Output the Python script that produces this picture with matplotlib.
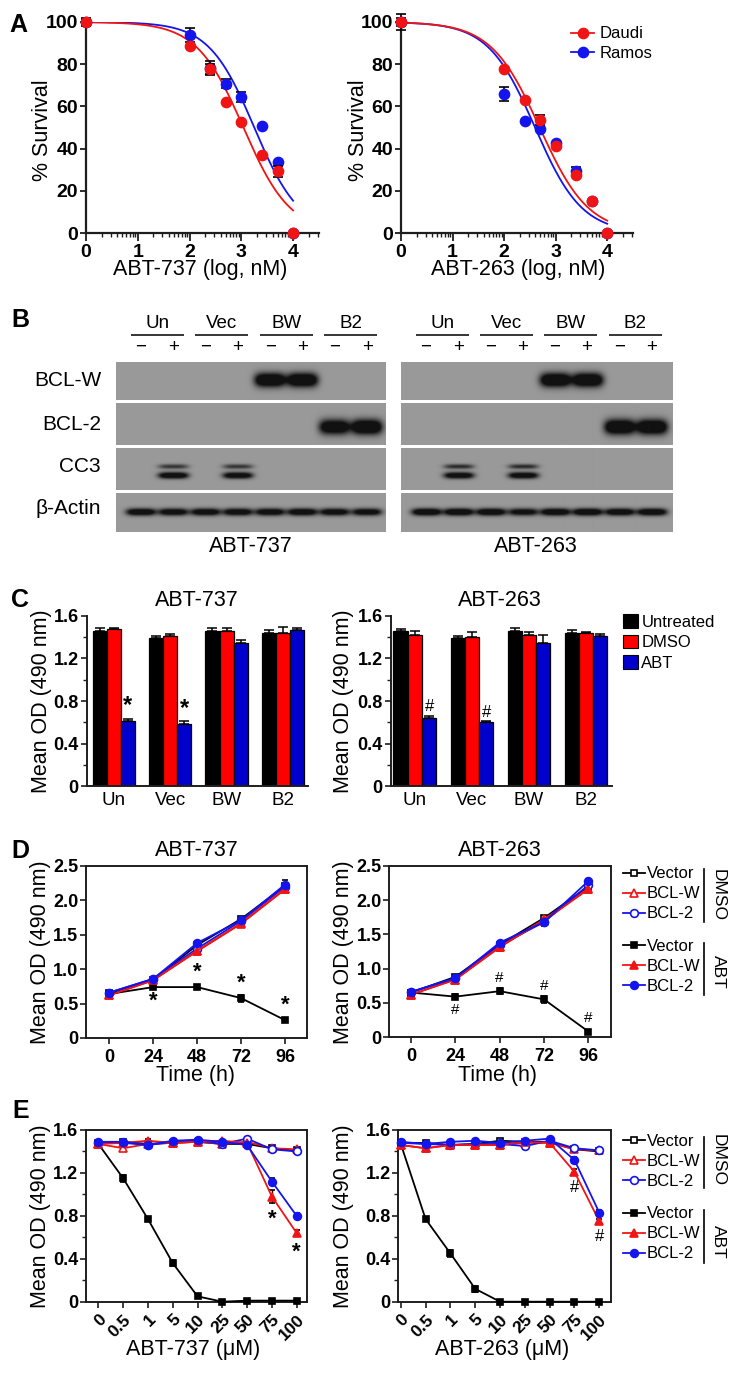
import numpy as np
import matplotlib
matplotlib.use('Agg')
import matplotlib.pyplot as plt
from matplotlib.lines import Line2D
from matplotlib.patches import Patch
from matplotlib.ticker import MultipleLocator, FixedLocator

plt.rcParams['font.family'] = ['Liberation Sans', 'DejaVu Sans']

# ======================= DATA =======================
# ---- Panel A: % survival vs log dose (nM)
a_log_dose = [0, 2, 2.398, 2.699, 3, 3.398, 3.699, 4]
a737_daudi = [100, 88.5, 77.5, 62.0, 52.5, 36.8, 29.2, 0]
a737_daudi_err = [2.0, 0, 2.5, 0, 0, 0, 2.7, 0]
a737_ramos = [100, 93.8, 78.4, 70.8, 64.4, 50.6, 33.8, 0]
a737_ramos_err = [1.5, 3.2, 3.0, 2.0, 2.3, 0, 0, 0]
a263_daudi = [100, 77.6, 62.8, 53.6, 41.3, 27.6, 15.0, 0]
a263_daudi_err = [3.6, 0, 0, 2.3, 0, 0, 0, 0]
a263_ramos = [100, 65.9, 53.0, 49.4, 42.6, 29.2, 15.0, 0]
a263_ramos_err = [2.0, 3.4, 0, 0, 0, 2.0, 0, 0]
# fitted sigmoid parameters (logIC50, Hill slope)
a737_daudi_fit = (3.04, 0.96)
a737_ramos_fit = (3.25, 0.99)
a263_daudi_fit = (2.69, 0.92)
a263_ramos_fit = (2.60, 0.955)
a_cell_lines = ['Daudi', 'Ramos']

# ---- Panel B: western blot band intensities (lanes: Un-,Un+,Vec-,Vec+,BW-,BW+,B2-,B2+)
b_groups = ['Un', 'Vec', 'BW', 'B2']
b_treat = ['\u2212', '+']
b_proteins = ['BCL-W', 'BCL-2', 'CC3', '\u03b2-Actin']
b737_bclw = [0, 0, 0, 0, 1.0, 1.0, 0, 0]
b737_bcl2 = [0, 0, 0, 0, 0, 0, 0.9, 1.0]
b737_cc3_upper = [0, 0.45, 0, 0.45, 0, 0, 0, 0]
b737_cc3_lower = [0, 0.9, 0, 0.85, 0, 0, 0, 0]
b737_actin = [0.85, 0.8, 0.82, 0.82, 0.82, 0.85, 0.8, 0.78]
b263_bclw = [0, 0, 0, 0, 1.0, 1.0, 0, 0]
b263_bcl2 = [0, 0, 0, 0, 0, 0, 1.0, 1.0]
b263_cc3_upper = [0, 0.5, 0, 0.5, 0, 0, 0, 0]
b263_cc3_lower = [0, 0.85, 0, 0.85, 0, 0, 0, 0]
b263_actin = [0.9, 0.9, 0.88, 0.75, 0.88, 0.9, 0.85, 0.88]

# ---- Panel C: mean OD (490 nm), bars
c_groups = ['Un', 'Vec', 'BW', 'B2']
c_conditions = ['Untreated', 'DMSO', 'ABT']
c737_untreated = [1.455, 1.393, 1.455, 1.437]
c737_untreated_err = [0.025, 0.02, 0.03, 0.03]
c737_dmso = [1.474, 1.412, 1.455, 1.437]
c737_dmso_err = [0.015, 0.015, 0.03, 0.06]
c737_abt = [0.615, 0.584, 1.34, 1.465]
c737_abt_err = [0.02, 0.025, 0.03, 0.02]
c263_untreated = [1.456, 1.393, 1.456, 1.437]
c263_untreated_err = [0.022, 0.02, 0.03, 0.033]
c263_dmso = [1.415, 1.40, 1.418, 1.437]
c263_dmso_err = [0.045, 0.045, 0.025, 0.01]
c263_abt = [0.643, 0.60, 1.345, 1.406]
c263_abt_err = [0.02, 0.008, 0.07, 0.025]
c_sig_groups = [0, 1]

# ---- Panel D: time course
d_time = [0, 24, 48, 72, 96]
d737_dmso_vector = [0.65, 0.85, 1.35, 1.73, 2.21]
d737_dmso_bclw = [0.62, 0.84, 1.26, 1.66, 2.16]
d737_dmso_bcl2 = [0.66, 0.86, 1.30, 1.70, 2.20]
d737_abt_vector = [0.64, 0.74, 0.74, 0.58, 0.26]
d737_abt_bclw = [0.62, 0.84, 1.27, 1.67, 2.17]
d737_abt_bcl2 = [0.66, 0.86, 1.38, 1.71, 2.23]
d737_dmso_vector_err = [0.01, 0.02, 0.03, 0.03, 0.05]
d737_dmso_bclw_err = [0.01, 0.02, 0.03, 0.02, 0.03]
d737_dmso_bcl2_err = [0.01, 0.02, 0.02, 0.02, 0.04]
d737_abt_vector_err = [0.01, 0.02, 0.02, 0.05, 0.02]
d737_abt_bclw_err = [0.01, 0.02, 0.03, 0.02, 0.03]
d737_abt_bcl2_err = [0.01, 0.02, 0.03, 0.03, 0.06]
d263_dmso_vector = [0.65, 0.88, 1.35, 1.74, 2.20]
d263_dmso_bclw = [0.62, 0.84, 1.31, 1.72, 2.17]
d263_dmso_bcl2 = [0.66, 0.86, 1.34, 1.68, 2.22]
d263_abt_vector = [0.65, 0.59, 0.67, 0.55, 0.08]
d263_abt_bclw = [0.62, 0.84, 1.32, 1.70, 2.16]
d263_abt_bcl2 = [0.66, 0.86, 1.38, 1.68, 2.28]
d263_dmso_vector_err = [0.01, 0.03, 0.03, 0.03, 0.04]
d263_dmso_bclw_err = [0.01, 0.02, 0.05, 0.02, 0.03]
d263_dmso_bcl2_err = [0.01, 0.02, 0.02, 0.05, 0.03]
d263_abt_vector_err = [0.01, 0.04, 0.04, 0.05, 0.02]
d263_abt_bclw_err = [0.01, 0.02, 0.03, 0.02, 0.03]
d263_abt_bcl2_err = [0.01, 0.02, 0.03, 0.03, 0.03]
d737_sig_idx = [1, 2, 3, 4]
d737_sig_below = [True, False, False, False]
d263_sig_idx = [1, 2, 3, 4]
d263_sig_below = [True, False, False, False]

# ---- Panel E: dose response (uM)
e_conc_labels = ['0', '0.5', '1', '5', '10', '25', '50', '75', '100']
e737_dmso_vector = [1.48, 1.49, 1.47, 1.48, 1.49, 1.47, 1.47, 1.43, 1.41]
e737_dmso_bclw = [1.47, 1.43, 1.47, 1.48, 1.49, 1.47, 1.49, 1.43, 1.42]
e737_dmso_bcl2 = [1.48, 1.48, 1.46, 1.49, 1.50, 1.47, 1.52, 1.42, 1.40]
e737_abt_vector = [1.47, 1.15, 0.77, 0.36, 0.05, 0.0, 0.01, 0.01, 0.01]
e737_abt_bclw = [1.47, 1.48, 1.50, 1.48, 1.49, 1.50, 1.48, 0.98, 0.64]
e737_abt_bcl2 = [1.49, 1.49, 1.46, 1.50, 1.51, 1.49, 1.46, 1.12, 0.80]
e737_dmso_vector_err = [0.01, 0.01, 0.01, 0.01, 0.01, 0.01, 0.01, 0.01, 0.02]
e737_dmso_bclw_err = [0.01, 0.02, 0.01, 0.01, 0.01, 0.02, 0.01, 0.01, 0.01]
e737_dmso_bcl2_err = [0.01, 0.01, 0.01, 0.01, 0.02, 0.01, 0.01, 0.01, 0.02]
e737_abt_vector_err = [0.01, 0.03, 0.02, 0.03, 0.01, 0.0, 0.0, 0.0, 0.0]
e737_abt_bclw_err = [0.01, 0.01, 0.02, 0.01, 0.01, 0.01, 0.01, 0.06, 0.03]
e737_abt_bcl2_err = [0.01, 0.01, 0.01, 0.01, 0.02, 0.01, 0.02, 0.03, 0.03]
e263_dmso_vector = [1.48, 1.48, 1.46, 1.47, 1.50, 1.49, 1.49, 1.42, 1.40]
e263_dmso_bclw = [1.46, 1.43, 1.46, 1.46, 1.46, 1.48, 1.48, 1.42, 1.41]
e263_dmso_bcl2 = [1.48, 1.47, 1.46, 1.47, 1.47, 1.45, 1.50, 1.43, 1.41]
e263_abt_vector = [1.47, 0.77, 0.45, 0.12, 0.0, 0.0, 0.0, 0.0, 0.0]
e263_abt_bclw = [1.46, 1.43, 1.46, 1.46, 1.46, 1.49, 1.48, 1.21, 0.75]
e263_abt_bcl2 = [1.49, 1.47, 1.49, 1.50, 1.48, 1.50, 1.52, 1.32, 0.83]
e263_dmso_vector_err = [0.01, 0.02, 0.01, 0.01, 0.02, 0.01, 0.01, 0.01, 0.02]
e263_dmso_bclw_err = [0.01, 0.03, 0.01, 0.01, 0.04, 0.02, 0.01, 0.01, 0.01]
e263_dmso_bcl2_err = [0.01, 0.01, 0.01, 0.01, 0.02, 0.03, 0.01, 0.01, 0.02]
e263_abt_vector_err = [0.01, 0.02, 0.03, 0.03, 0.0, 0.0, 0.0, 0.0, 0.0]
e263_abt_bclw_err = [0.01, 0.03, 0.01, 0.01, 0.02, 0.01, 0.01, 0.03, 0.02]
e263_abt_bcl2_err = [0.01, 0.01, 0.01, 0.01, 0.02, 0.01, 0.01, 0.03, 0.02]
e737_sig_idx = [7, 8]
e263_sig_idx = [7, 8]

legend_series = ['Vector', 'BCL-W', 'BCL-2']

# ======================= STYLE / LAYOUT =======================
RED = '#f01414'
BLUE = '#1414ee'
BAR_RED = '#ff0000'
BAR_BLUE = '#0000cc'
AXC = '#1e1e1e'
W, H = 734, 1374

fig = plt.figure(figsize=(W / 100, H / 100), dpi=100)
ov = fig.add_axes([0, 0, 1, 1], zorder=0)
ov.set_xlim(0, W)
ov.set_ylim(H, 0)
ov.axis('off')


def axes_px(l, t, r, b):
    ax = fig.add_axes([l / W, 1 - b / H, (r - l) / W, (b - t) / H], zorder=1)
    ax.set_facecolor('none')
    return ax


def to_axes(ax, xpx, ypx):
    return ax.transAxes.inverted().transform((xpx, H - ypx))


def xlabel_px(ax, text, xpx, ypx, size=15.5):
    ax.set_xlabel(text, fontsize=size)
    xa, ya = to_axes(ax, xpx, ypx)
    ax.xaxis.set_label_coords(xa, ya)
    ax.xaxis.label.set_va('center')


def ylabel_px(ax, text, xpx, ypx, size=15.5):
    ax.set_ylabel(text, fontsize=size)
    xa, ya = to_axes(ax, xpx, ypx)
    ax.yaxis.set_label_coords(xa, ya)
    ax.yaxis.label.set_va('center')


def title_px(ax, text, xpx, ypx, size=15.5):
    xa, ya = to_axes(ax, xpx, ypx)
    ax.text(xa, ya, text, transform=ax.transAxes, ha='center', va='center', fontsize=size)


def style_spines(ax, box=False, lw=1.4):
    for s in ['left', 'bottom', 'top', 'right']:
        ax.spines[s].set_color(AXC)
        ax.spines[s].set_linewidth(lw)
    if not box:
        ax.spines['top'].set_visible(False)
        ax.spines['right'].set_visible(False)


def panel_letter(x, y, s):
    ov.text(x, y, s, fontsize=18, fontweight='bold', ha='left', va='center')


# ======================= PANEL A =======================
def logistic(x, logic50, hill):
    return 100.0 / (1.0 + 10 ** ((np.asarray(x) - logic50) * hill))


def draw_a(ax, daudi, daudi_err, ramos, ramos_err, fit_d, fit_r):
    xs = np.linspace(0, 4, 400)
    ax.plot(xs, logistic(xs, *fit_r), color=BLUE, lw=1.3, zorder=2)
    ax.plot(xs, logistic(xs, *fit_d), color=RED, lw=1.3, zorder=2)
    for vals, errs, col, z in ((ramos, ramos_err, BLUE, 3), (daudi, daudi_err, RED, 4)):
        x = np.array(a_log_dose)
        v = np.array(vals)
        e = np.array(errs)
        m = e > 0
        ax.errorbar(x[m], v[m], yerr=e[m], fmt='none', ecolor='black', elinewidth=1.2,
                    capsize=3.3, capthick=1.2, zorder=z - 0.5, clip_on=False)
        ax.plot(x, v, 'o', color=col, ms=7.4, mec=col, zorder=z, clip_on=False)
    ax.set_xlim(0, 4.5)
    ax.set_ylim(0, 100)
    ax.set_xticks([0, 1, 2, 3, 4], ['0', '1', '2', '3', '4'], fontsize=14, fontweight='bold')
    ax.set_yticks([0, 20, 40, 60, 80, 100], ['0', '20', '40', '60', '80', '100'],
                  fontsize=14, fontweight='bold')
    minor = [d + np.log10(k) for d in range(5) for k in range(2, 10) if d + np.log10(k) <= 4.5]
    ax.xaxis.set_minor_locator(FixedLocator(minor))
    ax.tick_params(axis='x', which='major', length=5.5, width=1.3, color=AXC, pad=2.5)
    ax.tick_params(axis='x', which='minor', length=3, width=1.0, color=AXC)
    ax.tick_params(axis='y', which='major', length=4, width=1.3, color=AXC, pad=1.5)
    style_spines(ax, lw=1.6)


axA1 = axes_px(86, 22, 319, 233)
draw_a(axA1, a737_daudi, a737_daudi_err, a737_ramos, a737_ramos_err, a737_daudi_fit, a737_ramos_fit)
ylabel_px(axA1, '% Survival', 43, 130)
xlabel_px(axA1, 'ABT-737 (log, nM)', 200, 270)

axA2 = axes_px(401, 22, 633, 233)
draw_a(axA2, a263_daudi, a263_daudi_err, a263_ramos, a263_ramos_err, a263_daudi_fit, a263_ramos_fit)
ylabel_px(axA2, '% Survival', 358, 130)
xlabel_px(axA2, 'ABT-263 (log, nM)', 518, 270)
a_handles = [Line2D([], [], color=RED, marker='o', ms=7.4, lw=1.3, label=a_cell_lines[0]),
             Line2D([], [], color=BLUE, marker='o', ms=7.4, lw=1.3, label=a_cell_lines[1])]
axA2.legend(handles=a_handles, loc='upper left', bbox_to_anchor=(571, 26.5),
            bbox_transform=ov.transData, frameon=False, fontsize=12, handlelength=1.4,
            handletextpad=0.3, labelspacing=0.27, borderpad=0, borderaxespad=0)
panel_letter(9, 25, 'A')

# ======================= PANEL B =======================
BLOT_BG = 0.60
BLOT_DARK = 0.07
blot_rows_y = [(362, 400), (403, 445), (448, 490), (493, 532)]
blot_label_y = [380.5, 424, 467, 509]


def blot_row(x0, x1, y0, y1, lane_x, bands):
    nx = int((x1 - x0) * 2)
    ny = int((y1 - y0) * 2)
    X, Y = np.meshgrid(np.linspace(x0, x1, nx), np.linspace(y0, y1, ny))
    dens = np.zeros_like(X)
    for inten, cy, hh, hw in bands:
        for lx, v in zip(lane_x, inten):
            if v > 0:
                dens += 1.7 * v * np.exp(-np.abs((X - lx) / hw) ** 4 - np.abs((Y - cy) / hh) ** 2)
    img = BLOT_BG - (BLOT_BG - BLOT_DARK) * np.clip(dens, 0, 1)
    ov.imshow(img, extent=(x0, x1, y1, y0), cmap='gray', vmin=0, vmax=1, aspect='auto',
              interpolation='bilinear', origin='upper', zorder=1)


def draw_blot(x0, x1, lane0, pitch, bclw, bcl2, cc3u, cc3l, actin, drug):
    lanes = lane0 + pitch * np.arange(8)
    row_bands = [
        [(bclw, 380, 7.0, 15.5)],
        [(bcl2, 427, 7.5, 15.5)],
        [(cc3u, 466.5, 2.4, 15.0), (cc3l, 475.5, 3.2, 15.0)],
        [(actin, 512, 3.6, 15.0)],
    ]
    for (y0, y1), bands in zip(blot_rows_y, row_bands):
        blot_row(x0, x1, y0, y1, lanes, bands)
    for g, name in enumerate(b_groups):
        cx = (lanes[2 * g] + lanes[2 * g + 1]) / 2
        ov.text(cx, 324, name, ha='center', va='center', fontsize=13.5)
        ov.plot([cx - 26.5, cx + 26.5], [335, 335], color='black', lw=1.1, solid_capstyle='butt')
        for k in range(2):
            ov.text(lanes[2 * g + k], 347, b_treat[k], ha='center', va='center', fontsize=13.5)
    ov.text((x0 + x1) / 2, 547, drug, ha='center', va='center', fontsize=15.5)


draw_blot(116, 386, 141.0, 32.3, b737_bclw, b737_bcl2, b737_cc3_upper, b737_cc3_lower, b737_actin, 'ABT-737')
draw_blot(400.5, 672, 426.0, 32.2, b263_bclw, b263_bcl2, b263_cc3_upper, b263_cc3_lower, b263_actin, 'ABT-263')
for name, y in zip(b_proteins, blot_label_y):
    ov.text(101, y, name, ha='right', va='center', fontsize=15)
panel_letter(11, 320, 'B')

# ======================= PANEL C =======================
def draw_c(ax, series, sig, sig_size, sig_weight, xlim):
    centers = np.arange(len(c_groups)) * 4
    for off, (vals, errs), col, lab in zip((-1, 0, 1), series, ('black', BAR_RED, BAR_BLUE), c_conditions):
        ax.bar(centers + off, vals, width=1.0, color=col, edgecolor='black', linewidth=0.9,
               yerr=[np.zeros(len(vals)), errs], label=lab, zorder=2,
               error_kw=dict(ecolor='black', elinewidth=1.1, capsize=3.4, capthick=1.1))
    abt_vals, abt_errs = series[2]
    for g in c_sig_groups:
        ax.text(centers[g] + 1, abt_vals[g] + abt_errs[g] + 0.015, sig, ha='center', va='bottom',
                fontsize=sig_size, fontweight=sig_weight)
    ax.set_xlim(*xlim)
    ax.set_ylim(0, 1.6)
    ax.set_xticks(centers, c_groups, fontsize=13.5)
    ax.tick_params(axis='x', length=0, pad=4)
    ax.set_yticks([0, 0.4, 0.8, 1.2, 1.6], ['0', '0.4', '0.8', '1.2', '1.6'], fontsize=13, fontweight='bold')
    ax.yaxis.set_minor_locator(MultipleLocator(0.2))
    ax.tick_params(axis='y', which='major', length=4.5, width=1.2, color=AXC, pad=1)
    ax.tick_params(axis='y', which='minor', length=3, width=1.0, color=AXC)
    style_spines(ax, lw=1.4)


axC1 = axes_px(86.5, 615.7, 308, 786.3)
draw_c(axC1, [(c737_untreated, c737_untreated_err), (c737_dmso, c737_dmso_err), (c737_abt, c737_abt_err)],
       '*', 17, 'bold', (-1.94, 13.78))
ylabel_px(axC1, 'Mean OD (490 nm)', 41, 701)
title_px(axC1, 'ABT-737', 197, 601)

axC2 = axes_px(390.5, 615.7, 612, 786.3)
draw_c(axC2, [(c263_untreated, c263_untreated_err), (c263_dmso, c263_dmso_err), (c263_abt, c263_abt_err)],
       '#', 12, 'normal', (-1.71, 13.83))
ylabel_px(axC2, 'Mean OD (490 nm)', 343, 701)
title_px(axC2, 'ABT-263', 500, 601)
c_handles = [Patch(facecolor=col, edgecolor='black', linewidth=0.8, label=lab)
             for col, lab in zip(('black', BAR_RED, BAR_BLUE), c_conditions)]
axC2.legend(handles=c_handles, loc='upper left', bbox_to_anchor=(623, 614.5),
            bbox_transform=ov.transData, frameon=False, fontsize=12, handlelength=0.9,
            handleheight=0.9, handletextpad=0.2, labelspacing=0.27, borderpad=0, borderaxespad=0)
panel_letter(11, 600, 'C')

# ======================= PANELS D / E =======================
series_style = [
    ('black', 's', 'white', 5.0),
    (RED, '^', 'white', 5.8),
    (BLUE, 'o', 'white', 5.6),
    ('black', 's', 'black', 5.0),
    (RED, '^', RED, 5.8),
    (BLUE, 'o', BLUE, 5.6),
]


def draw_lines(ax, x, series, errs):
    for vals, err, (col, mk, mfc, ms) in zip(series, errs, series_style):
        ax.errorbar(x, vals, yerr=err, color=col, marker=mk, mfc=mfc, mec=col, ms=ms, mew=1.2,
                    lw=1.3, ecolor='black', elinewidth=1.0, capsize=2.3, capthick=1.0, zorder=3,
                    clip_on=False)


def group_legend(ax, top, names, styles, group_name, bar_top, bar_bot, text_y):
    handles = [Line2D([], [], color=col, marker=mk, mfc=mfc, mec=col, ms=ms, mew=1.2, lw=1.3, label=n)
               for n, (col, mk, mfc, ms) in zip(names, styles)]
    leg = ax.legend(handles=handles, loc='upper left', bbox_to_anchor=(623, top),
                    bbox_transform=ov.transData, frameon=False, fontsize=12, handlelength=1.32,
                    handletextpad=0.12, labelspacing=0.3, borderpad=0, borderaxespad=0)
    ax.legend_ = None
    ax.add_artist(leg)
    ov.plot([704.3, 704.3], [bar_top, bar_bot], color='black', lw=1.2)
    ov.text(718, text_y, group_name, rotation=-90, ha='center', va='center', fontsize=12.5)


def style_de(ax):
    style_spines(ax, box=True, lw=1.4)
    ax.tick_params(axis='both', which='major', length=4.5, width=1.2, color=AXC)
    ax.tick_params(axis='y', which='major', pad=1)
    ax.tick_params(axis='y', which='minor', length=3, width=1.0, color=AXC)


def sig_marks_d(ax, x, vals, idxs, below, s, size, weight, off):
    for i, b in zip(idxs, below):
        if b:
            ax.text(x[i], vals[i] - off, s, ha='center', va='top', fontsize=size, fontweight=weight)
        else:
            ax.text(x[i], vals[i] + off, s, ha='center', va='bottom', fontsize=size, fontweight=weight)


# ---- D left
axD1 = axes_px(86, 866, 307.3, 1038)
draw_lines(axD1, d_time,
           [d737_dmso_vector, d737_dmso_bclw, d737_dmso_bcl2, d737_abt_vector, d737_abt_bclw, d737_abt_bcl2],
           [d737_dmso_vector_err, d737_dmso_bclw_err, d737_dmso_bcl2_err, d737_abt_vector_err,
            d737_abt_bclw_err, d737_abt_bcl2_err])
sig_marks_d(axD1, d_time, d737_abt_vector, d737_sig_idx, d737_sig_below, '*', 16, 'bold', 0.06)
axD1.set_xlim(-12.7, 108.2)
axD1.set_ylim(0, 2.5)
axD1.set_xticks(d_time, [str(t) for t in d_time], fontsize=13, fontweight='bold')
axD1.set_yticks([0, 0.5, 1.0, 1.5, 2.0, 2.5], ['0', '0.5', '1.0', '1.5', '2.0', '2.5'], fontsize=13, fontweight='bold')
style_de(axD1)
ylabel_px(axD1, 'Mean OD (490 nm)', 41, 952)
xlabel_px(axD1, 'Time (h)', 195, 1075)
title_px(axD1, 'ABT-737', 197, 850)
panel_letter(11, 851, 'D')

# ---- D right
axD2 = axes_px(389.3, 866, 610.7, 1037)
draw_lines(axD2, d_time,
           [d263_dmso_vector, d263_dmso_bclw, d263_dmso_bcl2, d263_abt_vector, d263_abt_bclw, d263_abt_bcl2],
           [d263_dmso_vector_err, d263_dmso_bclw_err, d263_dmso_bcl2_err, d263_abt_vector_err,
            d263_abt_bclw_err, d263_abt_bcl2_err])
sig_marks_d(axD2, d_time, d263_abt_vector, d263_sig_idx, d263_sig_below, '#', 11, 'normal', 0.09)
axD2.set_xlim(-11.75, 108.1)
axD2.set_ylim(0, 2.5)
axD2.set_xticks(d_time, [str(t) for t in d_time], fontsize=13, fontweight='bold')
axD2.set_yticks([0, 0.5, 1.0, 1.5, 2.0, 2.5], ['0', '0.5', '1.0', '1.5', '2.0', '2.5'], fontsize=13, fontweight='bold')
style_de(axD2)
ylabel_px(axD2, 'Mean OD (490 nm)', 343, 952)
xlabel_px(axD2, 'Time (h)', 498, 1075)
title_px(axD2, 'ABT-263', 500, 850)
group_legend(axD2, 866.5, legend_series, series_style[:3], 'DMSO', 869, 921.7, 895)
group_legend(axD2, 939, legend_series, series_style[3:], 'ABT', 943, 995, 971.7)

# ---- E
e_x = np.arange(len(e_conc_labels))


def setup_e(ax, xlim):
    ax.set_xlim(*xlim)
    ax.set_ylim(0, 1.6)
    ax.set_xticks(e_x, e_conc_labels, fontsize=12.5, fontweight='bold', rotation=45,
                  ha='right', va='top', rotation_mode='anchor')
    ax.set_yticks([0, 0.4, 0.8, 1.2, 1.6], ['0', '0.4', '0.8', '1.2', '1.6'], fontsize=13, fontweight='bold')
    ax.yaxis.set_minor_locator(MultipleLocator(0.2))
    style_de(ax)
    ax.tick_params(axis='x', pad=3)


axE1 = axes_px(86, 1130, 307.3, 1301.7)
draw_lines(axE1, e_x,
           [e737_dmso_vector, e737_dmso_bclw, e737_dmso_bcl2, e737_abt_vector, e737_abt_bclw, e737_abt_bcl2],
           [e737_dmso_vector_err, e737_dmso_bclw_err, e737_dmso_bcl2_err, e737_abt_vector_err,
            e737_abt_bclw_err, e737_abt_bcl2_err])
for i in e737_sig_idx:
    axE1.text(e_x[i], e737_abt_bclw[i] - e737_abt_bclw_err[i] - 0.05, '*', ha='center', va='top',
              fontsize=16, fontweight='bold')
setup_e(axE1, (-0.5, 8.43))
ylabel_px(axE1, 'Mean OD (490 nm)', 41, 1216)
xlabel_px(axE1, 'ABT-737 (\u03bcM)', 193, 1350)
panel_letter(12, 1111, 'E')

axE2 = axes_px(398.3, 1130, 610.7, 1301.7)
draw_lines(axE2, e_x,
           [e263_dmso_vector, e263_dmso_bclw, e263_dmso_bcl2, e263_abt_vector, e263_abt_bclw, e263_abt_bcl2],
           [e263_dmso_vector_err, e263_dmso_bclw_err, e263_dmso_bcl2_err, e263_abt_vector_err,
            e263_abt_bclw_err, e263_abt_bcl2_err])
for i in e263_sig_idx:
    axE2.text(e_x[i], e263_abt_bclw[i] - e263_abt_bclw_err[i] - 0.05, '#', ha='center', va='top',
              fontsize=12)
setup_e(axE2, (-0.1, 8.46))
ylabel_px(axE2, 'Mean OD (490 nm)', 343, 1216)
xlabel_px(axE2, 'ABT-263 (\u03bcM)', 502, 1350)
group_legend(axE2, 1134, legend_series, series_style[:3], 'DMSO', 1136.7, 1188.3, 1160)
group_legend(axE2, 1206.5, legend_series, series_style[3:], 'ABT', 1210, 1262.7, 1241.7)

ov.set_xlim(0, W)
ov.set_ylim(H, 0)
fig.savefig('out.png', dpi=100)
